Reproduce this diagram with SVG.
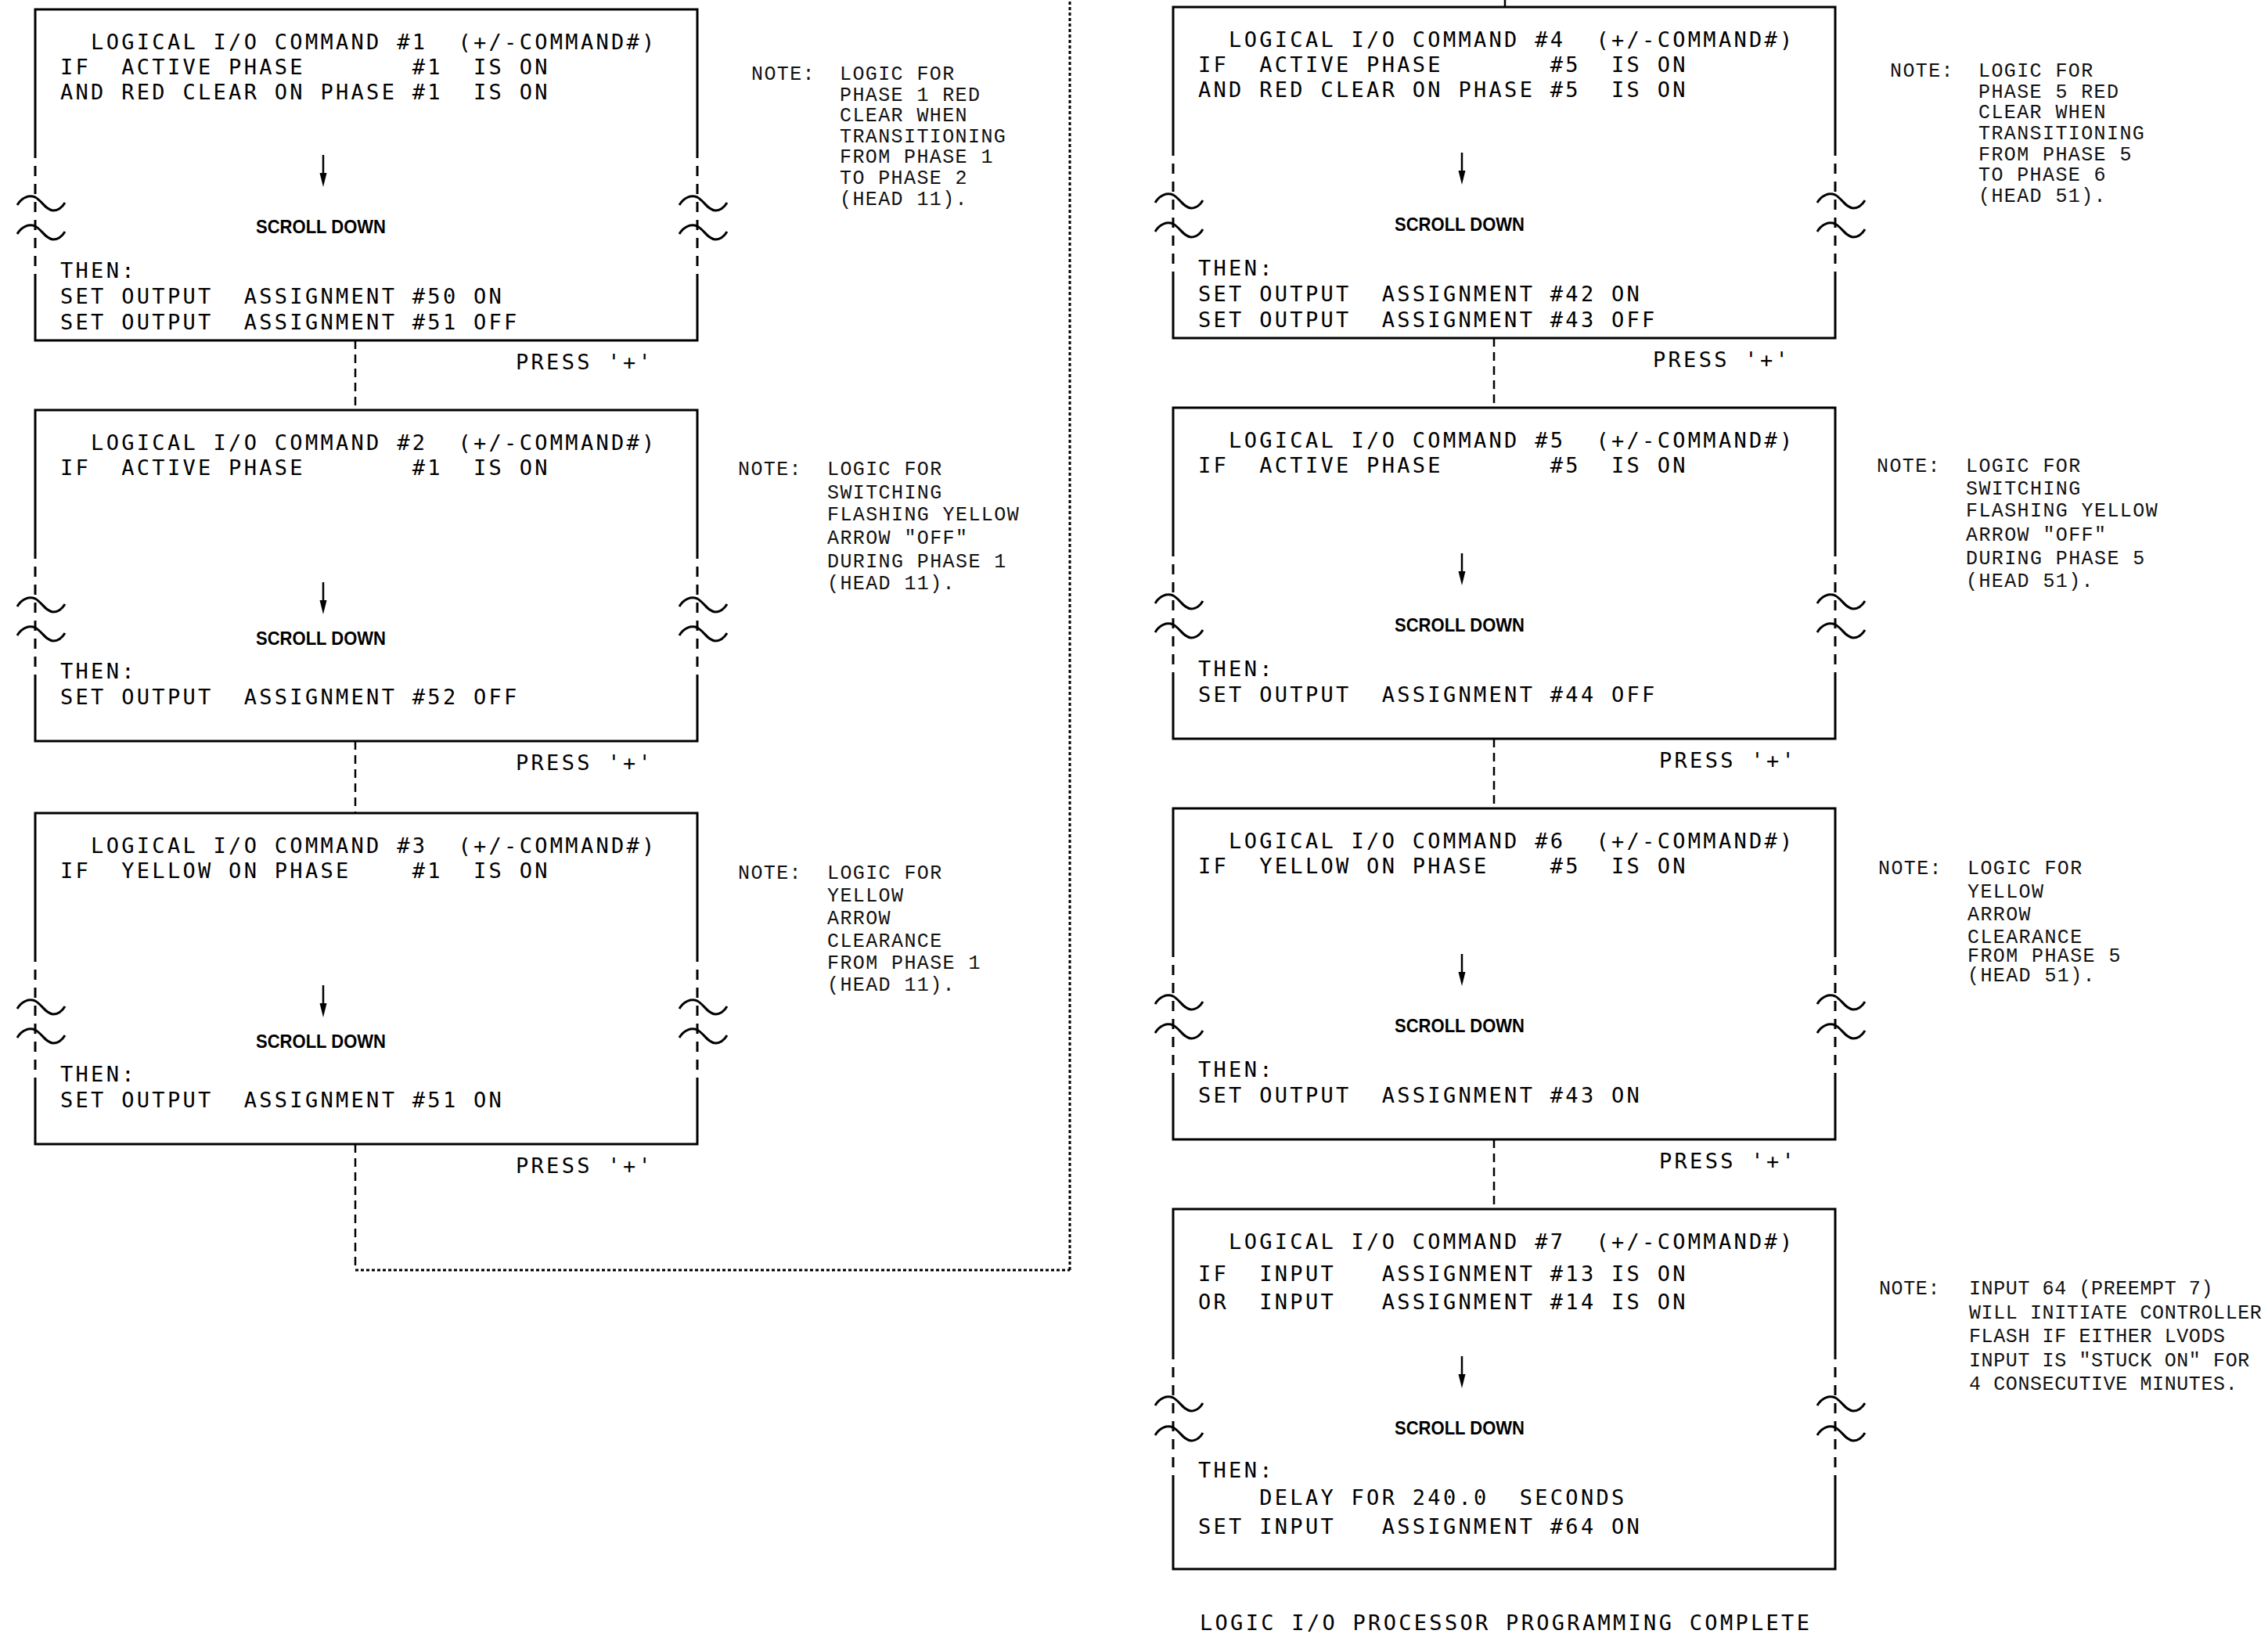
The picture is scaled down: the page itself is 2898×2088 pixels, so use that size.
<svg xmlns="http://www.w3.org/2000/svg" xmlns:xlink="http://www.w3.org/1999/xlink" width="2898" height="2088" viewBox="0 0 2898 2088" xml:space="preserve">
<style>
text{white-space:pre}
.t{font-family:"DejaVu Sans Mono","Liberation Mono",monospace;font-size:27px;letter-spacing:3.3px;fill:#000;white-space:pre}
.n{font-family:"Liberation Mono","DejaVu Sans Mono",monospace;font-size:25px;letter-spacing:1.4px;fill:#111;white-space:pre}
.n7{letter-spacing:0.6px}
.s{font-family:"Liberation Sans",Arial,sans-serif;font-weight:bold;font-size:23px;fill:#000}
.b{stroke:#000;stroke-width:3;fill:none}
.bd{stroke:#000;stroke-width:3;fill:none;stroke-dasharray:13 10}
.c{stroke:#000;stroke-width:2.5;fill:none;stroke-dasharray:11 7}
.dot{stroke:#000;stroke-width:3;fill:none;stroke-dasharray:4 3}
</style>
<defs>
<path id="tl" d="M-23,3 C-17,-7 -8,-10 0,-7 C8,-3 14,10 23,10 C30,10 35,5 38,0" stroke="#000" stroke-width="3" fill="none"/>
<g id="ar"><line x1="0" y1="0" x2="0" y2="25" stroke="#000" stroke-width="2.5"/><polygon points="-4.5,23 4.5,23 0,41" fill="#000"/></g>
</defs>

<g id="connectors">
<line class="c" x1="454" y1="435" x2="454" y2="524"/>
<line class="c" x1="454" y1="947" x2="454" y2="1039"/>
<line class="c" x1="454" y1="1462" x2="454" y2="1623"/>
<line class="dot" x1="454" y1="1623" x2="1367" y2="1623"/>
<line class="dot" x1="1367" y1="1623" x2="1367" y2="0"/>
<line stroke="#000" stroke-width="2.5" x1="1923" y1="0" x2="1923" y2="9"/>
<line class="c" x1="1909" y1="432" x2="1909" y2="521"/>
<line class="c" x1="1909" y1="944" x2="1909" y2="1033"/>
<line class="c" x1="1909" y1="1456" x2="1909" y2="1545"/>
</g>

<g id="cmd1">
<path class="b" d="M45,189 V12 H891 V189 M45,357 V435 H891 V357"/>
<path class="bd" d="M45,189 V357 M891,189 V357"/>
<use xlink:href="#tl" x="45" y="259"/><use xlink:href="#tl" x="45" y="296"/>
<use xlink:href="#tl" x="891" y="259"/><use xlink:href="#tl" x="891" y="296"/>
<use xlink:href="#ar" x="413" y="198"/>
<text class="s" x="410" y="298" text-anchor="middle" textLength="166" lengthAdjust="spacingAndGlyphs">SCROLL DOWN</text>
<text class="t" x="77" y="63" xml:space="preserve">  LOGICAL I/O COMMAND #1  (+/-COMMAND#)</text>
<text class="t" x="77" y="95" xml:space="preserve">IF  ACTIVE PHASE       #1  IS ON</text>
<text class="t" x="77" y="127" xml:space="preserve">AND RED CLEAR ON PHASE #1  IS ON</text>
<text class="t" x="77" y="355">THEN:</text>
<text class="t" x="77" y="388" xml:space="preserve">SET OUTPUT  ASSIGNMENT #50 ON</text>
<text class="t" x="77" y="421" xml:space="preserve">SET OUTPUT  ASSIGNMENT #51 OFF</text>
<text class="t" x="659" y="472">PRESS '+'</text>
<text class="n" x="960" y="102">NOTE:</text>
<text class="n" x="1073" y="102">LOGIC FOR</text>
<text class="n" x="1073" y="129">PHASE 1 RED</text>
<text class="n" x="1073" y="155">CLEAR WHEN</text>
<text class="n" x="1073" y="182">TRANSITIONING</text>
<text class="n" x="1073" y="208">FROM PHASE 1</text>
<text class="n" x="1073" y="235">TO PHASE 2</text>
<text class="n" x="1073" y="262">(HEAD 11).</text>
</g>

<g id="cmd2">
<path class="b" d="M45,701 V524 H891 V701 M45,869 V947 H891 V869"/>
<path class="bd" d="M45,701 V869 M891,701 V869"/>
<use xlink:href="#tl" x="45" y="772"/><use xlink:href="#tl" x="45" y="809"/>
<use xlink:href="#tl" x="891" y="772"/><use xlink:href="#tl" x="891" y="809"/>
<use xlink:href="#ar" x="413" y="744"/>
<text class="s" x="410" y="824" text-anchor="middle" textLength="166" lengthAdjust="spacingAndGlyphs">SCROLL DOWN</text>
<text class="t" x="77" y="575" xml:space="preserve">  LOGICAL I/O COMMAND #2  (+/-COMMAND#)</text>
<text class="t" x="77" y="607" xml:space="preserve">IF  ACTIVE PHASE       #1  IS ON</text>
<text class="t" x="77" y="867">THEN:</text>
<text class="t" x="77" y="900" xml:space="preserve">SET OUTPUT  ASSIGNMENT #52 OFF</text>
<text class="t" x="659" y="984">PRESS '+'</text>
<text class="n" x="943" y="607">NOTE:</text>
<text class="n" x="1057" y="607">LOGIC FOR</text>
<text class="n" x="1057" y="637">SWITCHING</text>
<text class="n" x="1057" y="665">FLASHING YELLOW</text>
<text class="n" x="1057" y="695">ARROW "OFF"</text>
<text class="n" x="1057" y="725">DURING PHASE 1</text>
<text class="n" x="1057" y="753">(HEAD 11).</text>
</g>

<g id="cmd3">
<path class="b" d="M45,1216 V1039 H891 V1216 M45,1384 V1462 H891 V1384"/>
<path class="bd" d="M45,1216 V1384 M891,1216 V1384"/>
<use xlink:href="#tl" x="45" y="1286"/><use xlink:href="#tl" x="45" y="1323"/>
<use xlink:href="#tl" x="891" y="1286"/><use xlink:href="#tl" x="891" y="1323"/>
<use xlink:href="#ar" x="413" y="1259"/>
<text class="s" x="410" y="1339" text-anchor="middle" textLength="166" lengthAdjust="spacingAndGlyphs">SCROLL DOWN</text>
<text class="t" x="77" y="1090" xml:space="preserve">  LOGICAL I/O COMMAND #3  (+/-COMMAND#)</text>
<text class="t" x="77" y="1122" xml:space="preserve">IF  YELLOW ON PHASE    #1  IS ON</text>
<text class="t" x="77" y="1382">THEN:</text>
<text class="t" x="77" y="1415" xml:space="preserve">SET OUTPUT  ASSIGNMENT #51 ON</text>
<text class="t" x="659" y="1499">PRESS '+'</text>
<text class="n" x="943" y="1123">NOTE:</text>
<text class="n" x="1057" y="1123">LOGIC FOR</text>
<text class="n" x="1057" y="1152">YELLOW</text>
<text class="n" x="1057" y="1181">ARROW</text>
<text class="n" x="1057" y="1210">CLEARANCE</text>
<text class="n" x="1057" y="1238">FROM PHASE 1</text>
<text class="n" x="1057" y="1266">(HEAD 11).</text>
</g>

<g id="cmd4">
<path class="b" d="M1499,186 V9 H2345 V186 M1499,354 V432 H2345 V354"/>
<path class="bd" d="M1499,186 V354 M2345,186 V354"/>
<use xlink:href="#tl" x="1499" y="256"/><use xlink:href="#tl" x="1499" y="293"/>
<use xlink:href="#tl" x="2345" y="256"/><use xlink:href="#tl" x="2345" y="293"/>
<use xlink:href="#ar" x="1868" y="195"/>
<text class="s" x="1865" y="295" text-anchor="middle" textLength="166" lengthAdjust="spacingAndGlyphs">SCROLL DOWN</text>
<text class="t" x="1531" y="60" xml:space="preserve">  LOGICAL I/O COMMAND #4  (+/-COMMAND#)</text>
<text class="t" x="1531" y="92" xml:space="preserve">IF  ACTIVE PHASE       #5  IS ON</text>
<text class="t" x="1531" y="124" xml:space="preserve">AND RED CLEAR ON PHASE #5  IS ON</text>
<text class="t" x="1531" y="352">THEN:</text>
<text class="t" x="1531" y="385" xml:space="preserve">SET OUTPUT  ASSIGNMENT #42 ON</text>
<text class="t" x="1531" y="418" xml:space="preserve">SET OUTPUT  ASSIGNMENT #43 OFF</text>
<text class="t" x="2112" y="469">PRESS '+'</text>
<text class="n" x="2415" y="98">NOTE:</text>
<text class="n" x="2528" y="98">LOGIC FOR</text>
<text class="n" x="2528" y="125">PHASE 5 RED</text>
<text class="n" x="2528" y="151">CLEAR WHEN</text>
<text class="n" x="2528" y="178">TRANSITIONING</text>
<text class="n" x="2528" y="205">FROM PHASE 5</text>
<text class="n" x="2528" y="231">TO PHASE 6</text>
<text class="n" x="2528" y="258">(HEAD 51).</text>
</g>

<g id="cmd5">
<path class="b" d="M1499,698 V521 H2345 V698 M1499,866 V944 H2345 V866"/>
<path class="bd" d="M1499,698 V866 M2345,698 V866"/>
<use xlink:href="#tl" x="1499" y="768"/><use xlink:href="#tl" x="1499" y="805"/>
<use xlink:href="#tl" x="2345" y="768"/><use xlink:href="#tl" x="2345" y="805"/>
<use xlink:href="#ar" x="1868" y="707"/>
<text class="s" x="1865" y="807" text-anchor="middle" textLength="166" lengthAdjust="spacingAndGlyphs">SCROLL DOWN</text>
<text class="t" x="1531" y="572" xml:space="preserve">  LOGICAL I/O COMMAND #5  (+/-COMMAND#)</text>
<text class="t" x="1531" y="604" xml:space="preserve">IF  ACTIVE PHASE       #5  IS ON</text>
<text class="t" x="1531" y="864">THEN:</text>
<text class="t" x="1531" y="897" xml:space="preserve">SET OUTPUT  ASSIGNMENT #44 OFF</text>
<text class="t" x="2120" y="981">PRESS '+'</text>
<text class="n" x="2398" y="603">NOTE:</text>
<text class="n" x="2512" y="603">LOGIC FOR</text>
<text class="n" x="2512" y="632">SWITCHING</text>
<text class="n" x="2512" y="660">FLASHING YELLOW</text>
<text class="n" x="2512" y="691">ARROW "OFF"</text>
<text class="n" x="2512" y="721">DURING PHASE 5</text>
<text class="n" x="2512" y="750">(HEAD 51).</text>
</g>

<g id="cmd6">
<path class="b" d="M1499,1210 V1033 H2345 V1210 M1499,1378 V1456 H2345 V1378"/>
<path class="bd" d="M1499,1210 V1378 M2345,1210 V1378"/>
<use xlink:href="#tl" x="1499" y="1280"/><use xlink:href="#tl" x="1499" y="1317"/>
<use xlink:href="#tl" x="2345" y="1280"/><use xlink:href="#tl" x="2345" y="1317"/>
<use xlink:href="#ar" x="1868" y="1219"/>
<text class="s" x="1865" y="1319" text-anchor="middle" textLength="166" lengthAdjust="spacingAndGlyphs">SCROLL DOWN</text>
<text class="t" x="1531" y="1084" xml:space="preserve">  LOGICAL I/O COMMAND #6  (+/-COMMAND#)</text>
<text class="t" x="1531" y="1116" xml:space="preserve">IF  YELLOW ON PHASE    #5  IS ON</text>
<text class="t" x="1531" y="1376">THEN:</text>
<text class="t" x="1531" y="1409" xml:space="preserve">SET OUTPUT  ASSIGNMENT #43 ON</text>
<text class="t" x="2120" y="1493">PRESS '+'</text>
<text class="n" x="2400" y="1117">NOTE:</text>
<text class="n" x="2514" y="1117">LOGIC FOR</text>
<text class="n" x="2514" y="1147">YELLOW</text>
<text class="n" x="2514" y="1176">ARROW</text>
<text class="n" x="2514" y="1205">CLEARANCE</text>
<text class="n" x="2514" y="1229">FROM PHASE 5</text>
<text class="n" x="2514" y="1254">(HEAD 51).</text>
</g>

<g id="cmd7">
<path class="b" d="M1499,1724 V1545 H2345 V1724 M1499,1889 V2005 H2345 V1889"/>
<path class="bd" d="M1499,1724 V1889 M2345,1724 V1889"/>
<use xlink:href="#tl" x="1499" y="1793"/><use xlink:href="#tl" x="1499" y="1831"/>
<use xlink:href="#tl" x="2345" y="1793"/><use xlink:href="#tl" x="2345" y="1831"/>
<use xlink:href="#ar" x="1868" y="1733"/>
<text class="s" x="1865" y="1833" text-anchor="middle" textLength="166" lengthAdjust="spacingAndGlyphs">SCROLL DOWN</text>
<text class="t" x="1531" y="1596" xml:space="preserve">  LOGICAL I/O COMMAND #7  (+/-COMMAND#)</text>
<text class="t" x="1531" y="1637" xml:space="preserve">IF  INPUT   ASSIGNMENT #13 IS ON</text>
<text class="t" x="1531" y="1673" xml:space="preserve">OR  INPUT   ASSIGNMENT #14 IS ON</text>
<text class="t" x="1531" y="1888">THEN:</text>
<text class="t" x="1531" y="1923" xml:space="preserve">    DELAY FOR 240.0  SECONDS</text>
<text class="t" x="1531" y="1960" xml:space="preserve">SET INPUT   ASSIGNMENT #64 ON</text>
<text class="n n7" x="2401" y="1654">NOTE:</text>
<text class="n n7" x="2516" y="1654">INPUT 64 (PREEMPT 7)</text>
<text class="n n7" x="2516" y="1685">WILL INITIATE CONTROLLER</text>
<text class="n n7" x="2516" y="1715">FLASH IF EITHER LVODS</text>
<text class="n n7" x="2516" y="1746">INPUT IS "STUCK ON" FOR</text>
<text class="n n7" x="2516" y="1776">4 CONSECUTIVE MINUTES.</text>
</g>

<g id="footer">
<text class="t" x="1533" y="2083">LOGIC I/O PROCESSOR PROGRAMMING COMPLETE</text>
</g>
</svg>
